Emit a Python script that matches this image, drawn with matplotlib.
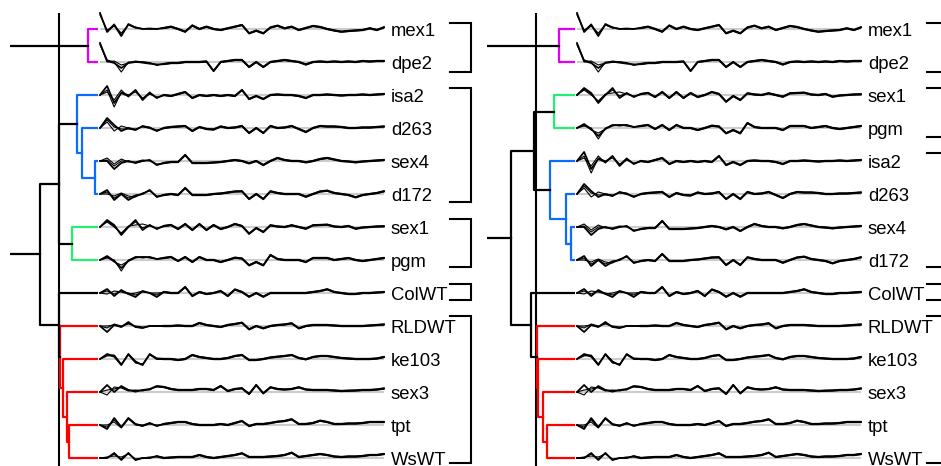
import numpy as np
import matplotlib
matplotlib.use("Agg")
import matplotlib.pyplot as plt

# ---- data -----------------------------------------------------------------
genes = ["mex1", "dpe2", "isa2", "d263", "sex4", "d172", "sex1", "pgm",
         "ColWT", "RLDWT", "ke103", "sex3", "tpt", "WsWT"]
order_right = ["mex1", "dpe2", "sex1", "pgm", "isa2", "d263", "sex4", "d172",
               "ColWT", "RLDWT", "ke103", "sex3", "tpt", "WsWT"]

# linkage rows (a, b, height); ids >= 14 are earlier merges
links_left = [(12, 13, 0.29), (11, 14, 0.31), (10, 15, 0.35), (9, 16, 0.375),
              (4, 5, 0.03), (3, 18, 0.16), (2, 19, 0.21), (6, 7, 0.26),
              (0, 1, 0.10), (20, 21, 0.39), (8, 17, 0.39), (23, 24, 0.58),
              (22, 25, 1.00)]
links_right = [(0, 1, 0.16), (2, 3, 0.21), (6, 7, 0.04), (5, 16, 0.09),
               (4, 17, 0.25), (15, 18, 0.41), (12, 13, 0.28), (11, 20, 0.32),
               (10, 21, 0.37), (9, 22, 0.38), (8, 23, 0.44), (19, 24, 0.64),
               (14, 25, 1.00)]
cut_left = 0.385
cut_right = 0.39

pal_left = ["#e100f5", "#0a6cff", "#22f070", "#ff0000"]
pal_right = ["#e100f5", "#22f070", "#0a6cff", "#ff0000"]

groups_left = [(0, 1), (2, 5), (6, 7), (8, 8), (9, 13)]
groups_right = [(0, 1), (2, 3), (4, 7), (8, 8), (9, 13)]

# mean profiles (41 time points), displacement
traces = {
    "mex1": [16, -3, 4, -7, 5, 1.5, 0, 0.5, 0, 1, 2.3, 0, -2.7, 3.5, 0, 2.3, 0, -1, 0.7, 2.3,
             4, -4.3, -1.7, -4.3, 1.5, 3.3, 0.7, 2.3, -1, 1, 3, 2, 0, -1.5, -2.7, -2, -1.5, -1, 0.7, -1, 1.7],
    "dpe2": [19, 1, -1, -6, -1, 0, 0, -1, -3, -2, -1, -1, 0, 0, 0, 0.5, -9, 0, 1, 2,
             2, -5, 0, -5, 0, 1, 2, 1, 0, -2.5, 0, 0.5, 0, 0.5, 0, 0.5, 0, 1, 0.5, 1, 1],
    "isa2": [0, 9, -8, 2, -1, 5, -5, 2, -3, 0, -1, 1, 3, -3, 0, -1, 0, -1, 0, -1,
             5, -4, -1, -4, 0, 0.5, 0, 0, -1, -3, 0, 0, 0.5, 0, -0.5, 0, 0, 0.5, 0, 0.5, 1],
    "d263": [0, 10, 3, -3, 0, -2, 2, 0, -3, 0, 1, 1.5, 2, -3, 1, -1, -1.5, 1.5, 0, 0.5,
             2, -5, 0, -5, 2, 0, 0.5, 2, -1, -4, 0, 2, 1.5, 1.5, 1, 0, 0, 0.5, 0.5, 1, 1.5],
    "sex4": [0, 0, -8, -2, 0, -2, 0, 1, -4, -2, -1, -1, 6, -2, -2, -2, -1.5, -1, 0, 1,
             0, -2.3, 0, -4, 0, 3, 1, 0, 0, -1.3, 0, 2, 3, 1.5, 0, -0.5, -1.3, -0.5, 0, 0.5, 1],
    "d172": [0, 4, -6, 0, -6, -2, 0, 4, -3, -1, 0, -1, 6, -1, -1, -1, 0, 0.5, 1.5, 2.5,
             2.7, -5, 0, -5, 2.7, 1, 0, 0, 0, -2.7, 0, 2.5, 3.3, 1, 0, -1, -3.3, -1, 0, 1, 2.7],
    "sex1": [0, 7, 2, -8, 0, 7, -3, 2, -2, 1, 2, -2, 3, -3, 3, -3, 2, -2, 0, 3,
             1, -6.7, -1, -5, 1.7, 0.5, 0, 1.7, 0, -1.7, 1.7, 2, 2.3, 0.5, 0, 1, -1.7, -0.5, 0, 0.5, 0.7],
    "pgm": [0, 4, -1, -8, -1, 3, 3, 3, 1, 2, 3, -1, 3, -2, 3, 0, 0, -2, 0, 2.3,
            1.5, -5.3, -2, -5.3, 5, 1, 0, 0, 0, -2, 2, 2, 2, 0, 1, 2, 0, -1, 0, 1, 2],
    "ColWT": [0, 4, -3, 3, -1, -4, 2, 0, -4, 1, 0, 0, 6, -3, 1, -1, 0, 2, -3, 3.5,
              1, -3.7, 0, -3.7, 0, 0, 0, 0, 0, 0, 1, 2, 3.7, 1, 0, -1, -1, 0, 0, 0.5, 1],
    "RLDWT": [0, -6, 1, -1, 4, -1, -2, 0, 0, 0, 0, 0.5, 0, 0, 3, 1, 0, -1, 1, 2,
              3.3, -3.3, 0, -2.3, 0, 1, 1.5, 2.7, -2.3, 0, 1, 1, 1, 0.5, 0, 0, 0, 0, 0.5, 1, 1.5],
    "ke103": [0, 5, 3, -6, 5, -3, -6, 5, 0, 0, 0, -1, 0, 4, 2, 1, 0, 0, 1, 3,
              4, -1, -1, 0, 1.5, 2.3, 3, 4, 1, -0.3, 2, 3, 3, 2, 1, 0.5, 0, 0, 0, 0.5, 2],
    "sex3": [0, 7, 0, 6, 2, 1, 2, 3, 6, 5, 3, 2, 2, 2, 3, 3, 2, 6, 1, 3,
             3.7, -2, 7, -1.3, 4.7, 3, 2.5, 3, 4.7, 2.5, 2, 2, 2, 1.5, 1, 1.3, 1.5, 2, 2, 2.5, 3.5],
    "tpt": [0, -4, 7, -2, 7, 1, -1, 2, -1, 1, 2, 3, 3, 1, 0, 0, 0, 1, 0, 2,
            4, -1, 1, 1, 2, 3.3, 4, 5.7, 1, 1, 2, 4.3, 3, 1, 1, 1.5, 1.5, 2, 3, 3, 3],
    "WsWT": [0, 0, 5, -2, 5, -2, 0, 0, 2, 0, 0.5, 1, 1, 1, 3, 1, 0, 1, 2, 3,
             4.7, 1, 1, 1, 1.5, 2, 3, 5.3, 1, 2, 3, 4, 3, 1.5, 1, 1.5, 1.5, 2, 3, 3, 4],
}

# replicate curves differ mostly in the first time points
rep_a = {
    "mex1": [14, -1, 3, -4, 4, 2, 0, 0, 0.5], "dpe2": [17, 2, 0, -10, 0, 0, -1, -2, -2],
    "isa2": [0, 5, -12, 3, 0, 3, -3, 1, -2], "d263": [0, 6, -3, 2, 0, -1, 1, 0, -2],
    "sex4": [0, 3, -3, 2, -1, -1, 1, 0, -3], "d172": [0, 0, -2, 1, -2, -3, 1, 3, -2],
    "sex1": [0, 5, 0, -6, 1, 2, 3, 1, -1], "pgm": [0, 2, 0, -11, 0, 3, 2, 3, 1],
    "ColWT": [0, -1, 2, 1, -1, 0, 2, 0, 0], "RLDWT": [0, -2, 2, 0, 2, 0, -1, 0, 0],
    "ke103": [0, 3, 4, -5, 4, -4, -5, 4, 0], "sex3": [0, -3, 5, 4, 1, 2, 1, 3, 5],
    "tpt": [0, 0, 3, -3, 6, 0, -1, 1, 0], "WsWT": [0, 1, 2, 1, 4, -1, 0, 1, 1],
}
rep_b = {
    "mex1": [15, -2, 5, -6, 4, 1, 0.5, 0, 0], "dpe2": [18, 0, 1, -3, -1, 1, 0, -1, -3],
    "isa2": [0, 3, -5, 5, -2, 5, -4, 3, -3], "d263": [0, 8, 1, -1, -1, -2, 2, 1, -3],
    "sex4": [0, 1, -5, 0, 0, -2, 0, 1, -4], "d172": [0, 2, -4, 0, -4, -1, 0, 4, -3],
    "sex1": [0, 6, 1, -7, 0, 5, -1, 2, -2], "pgm": [0, 3, -2, -5, -1, 2, 3, 2, 1],
    "ColWT": [0, 2, -1, 2, 0, -2, 1, 0, -2], "RLDWT": [0, 0, 1, -1, 3, -1, -2, 0, 0],
    "ke103": [0, 4, 2, -6, 5, -2, -6, 5, 1], "sex3": [0, 2, 3, 5, 2, 0, 2, 2, 6],
    "tpt": [0, -2, 5, -2, 7, 1, 0, 2, -1], "WsWT": [0, 0, 4, -1, 5, -2, 0, 0, 2],
}

# ---- layout (figure pixels) ----------------------------------------------
W, H = 941.0, 466.0
TOP = 13.0
YLIM = (13.242, -0.485)      # row units, row i centred at 29 + 33 i px
AMP = 33.0                   # displacement units per row


def fa(x0, w, y0=TOP, y1=H):
    return [x0 / W, 1 - y1 / H, w / W, (y1 - y0) / H]


def draw_tree(ax, links, cut, palette):
    n = len(links) + 1
    ypos = {i: float(i) for i in range(n)}
    hgt = {i: 0.0 for i in range(n)}
    kids = {}
    parent = {}
    for k, (a, b, h) in enumerate(links):
        node = n + k
        ypos[node] = (ypos[a] + ypos[b]) / 2
        hgt[node] = h
        kids[node] = (a, b)
        parent[a] = node
        parent[b] = node
    roots = [nd for nd in kids if hgt[nd] < cut and hgt[parent[nd]] >= cut]
    roots.sort(key=lambda nd: ypos[nd])
    colour = {nd: palette[i] for i, nd in enumerate(roots)}

    ax.axvline(cut, color="k", lw=1.5, zorder=1)
    for node, (a, b) in kids.items():
        h = hgt[node]
        c = "k"
        if h < cut:
            top = node
            while top not in colour:
                top = parent[top]
            c = colour[top]
        ax.plot([hgt[a], h, h, hgt[b]], [ypos[a], ypos[a], ypos[b], ypos[b]],
                color=c, lw=1.6, zorder=2)
    ax.set_xlim(0.88, 0)
    ax.set_ylim(*YLIM)
    ax.axis("off")


def draw_traces(ax, order):
    t = np.arange(41)
    ax.hlines(range(len(order)), 0, 40, color="#cccccc", lw=1.5, zorder=1)
    for r, g in enumerate(order):
        main = np.array(traces[g], dtype=float)
        for early, off in ((rep_a[g], -0.6), (rep_b[g], 0.6)):
            rep = main + off
            rep[:len(early)] = early
            ax.plot(t, r - rep / AMP, color="k", lw=0.8, clip_on=False, zorder=2)
        ax.plot(t, r - main / AMP, color="k", lw=1.3, clip_on=False, zorder=3)
        ax.annotate(g, xy=(40, r), xytext=(5, -5.2), textcoords="offset points",
                    ha="left", va="baseline", fontsize=13.3, family="Liberation Sans")
    ax.set_xlim(0, 40)
    ax.set_ylim(*YLIM)
    ax.axis("off")


def draw_brackets(ax, groups):
    for first, last in groups:
        y0, y1 = first - 0.2, last + 0.3
        ax.plot([0, 1, 1, 0], [y0, y0, y1, y1], color="k", lw=1.5,
                solid_joinstyle="miter", clip_on=False)
    ax.set_xlim(0, 1)
    ax.set_ylim(13.39, -0.905)
    ax.axis("off")


def main():
    fig = plt.figure(figsize=(W / 100, H / 100), dpi=100)

    for dx, links, cut, pal, order, groups in (
            (0, links_left, cut_left, pal_left, genes, groups_left),
            (477, links_right, cut_right, pal_right, order_right, groups_right)):
        ax_d = fig.add_axes(fa(10 + dx, 88))
        draw_tree(ax_d, links, cut, pal)
        ax_t = fig.add_axes(fa(100 + dx, 284))
        draw_traces(ax_t, order)
        ax_b = fig.add_axes(fa(450 + dx, 21, 0, H))
        draw_brackets(ax_b, groups)

    fig.savefig("out.png", dpi=100)


main()
